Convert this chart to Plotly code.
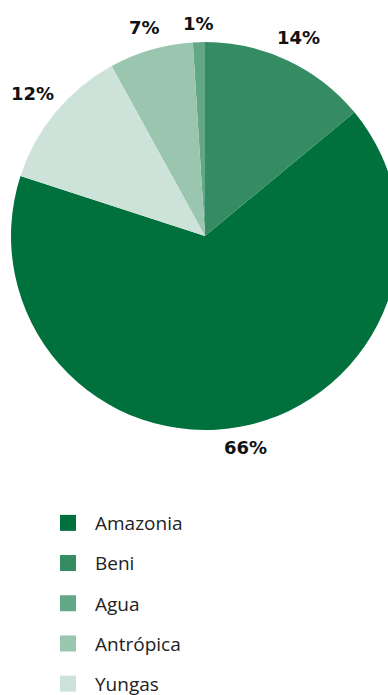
import math
import plotly.graph_objects as go

categories = ["Amazonia", "Beni", "Agua", "Antrópica", "Yungas"]
values = [66, 14, 1, 7, 12]
colors = ["#00703c", "#368c62", "#62a886", "#9ac6b0", "#cde3d9"]

W, H = 400, 695
cx, cy, r = 205, 236, 194
rotation = 50.4  # clockwise angle (from 12 o'clock) where the first slice ends

fig = go.Figure()
fig.add_trace(go.Pie(
    labels=categories, values=values, sort=False, direction="counterclockwise",
    rotation=rotation, marker=dict(colors=colors, line=dict(width=0)),
    textinfo="none", showlegend=False, hoverinfo="label+percent",
    domain=dict(x=[(cx - r) / W, (cx + r) / W], y=[(H - cy - r) / H, (H - cy + r) / H]),
))

# percentage labels placed just outside each slice along its bisector
total = sum(values)
start = rotation + 360 * values[0] / total
for v in values:
    span = 360 * v / total
    mid = math.radians(start - span / 2)
    start -= span
    s, c = math.sin(mid), -math.cos(mid)
    d = r + 8 + 20 * abs(s) + 10 * abs(c)
    px, py = cx + d * s, cy + d * c
    fig.add_annotation(x=px / W, y=1 - py / H, xref="paper", yref="paper",
                       text=f"<b>{round(100 * v / total)}%</b>", showarrow=False,
                       xanchor="center", yanchor="middle",
                       font=dict(family="DejaVu Sans", size=18, color="#111"))

for c, col in zip(categories, colors):
    fig.add_trace(go.Scatter(
        x=[None], y=[None], mode="markers", name=c, legendgroup=c,
        marker=dict(symbol="square", size=20, color=col),
    ))

fig.update_layout(
    width=W, height=H, margin=dict(l=0, r=0, t=0, b=0, autoexpand=False),
    paper_bgcolor="white", plot_bgcolor="white",
    xaxis=dict(visible=False), yaxis=dict(visible=False),
    legend=dict(x=41 / W, xanchor="left", y=(H - 504) / H, yanchor="top",
                font=dict(family="Open Sans", size=19, color="#222"),
                tracegroupgap=12.5, itemwidth=44),
)
fig.write_html("out.html", config={"displayModeBar": False},
               post_script="document.body.style.margin='0';document.body.style.overflow='hidden';")
